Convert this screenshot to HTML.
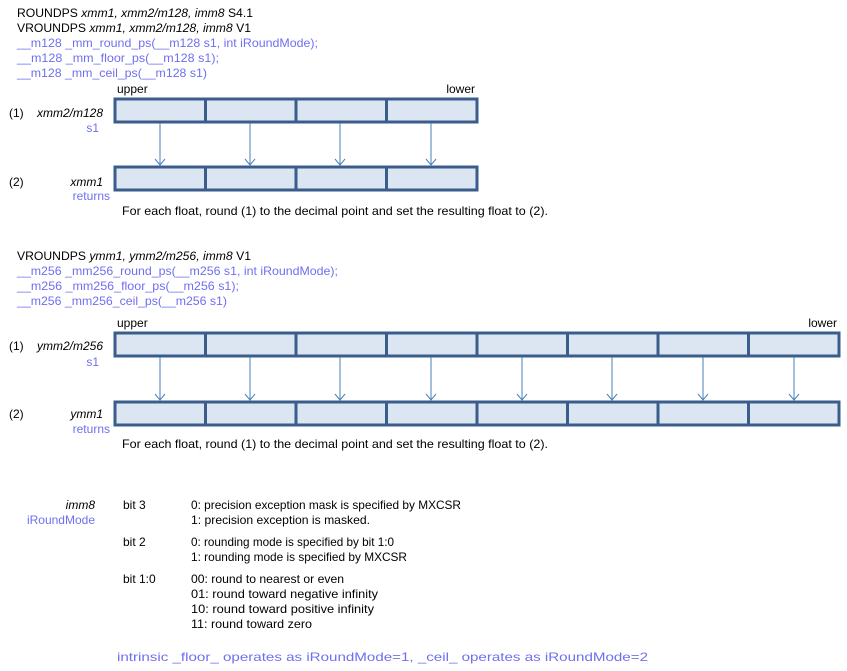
<!DOCTYPE html>
<html><head><meta charset="utf-8"><style>
html,body{margin:0;padding:0;background:#fff;}
svg{display:block;font-family:"Liberation Sans",sans-serif;font-size:12px;white-space:pre;}
.b{fill:#6f6ff0;}
.k{fill:#000;}
.c{fill:#dce6f2;stroke:#3a5d8c;stroke-width:3;}
.d{stroke:#3a5d8c;stroke-width:3;}
.a{stroke:#4a7ebb;stroke-width:1;fill:none;}
</style></head><body>
<svg width="847" height="671" viewBox="0 0 847 671" xmlns="http://www.w3.org/2000/svg" xml:space="preserve">
<text x="17" y="17" class="k" textLength="236" lengthAdjust="spacingAndGlyphs">ROUNDPS <tspan font-style="italic">xmm1, xmm2/m128, imm8</tspan>   S4.1</text>
<text x="17" y="32" class="k" textLength="234" lengthAdjust="spacingAndGlyphs">VROUNDPS <tspan font-style="italic">xmm1, xmm2/m128, imm8</tspan>   V1</text>
<text x="17" y="47" class="b" textLength="301" lengthAdjust="spacingAndGlyphs">__m128  _mm_round_ps(__m128  s1, int iRoundMode);</text>
<text x="17" y="62" class="b" textLength="202" lengthAdjust="spacingAndGlyphs">__m128  _mm_floor_ps(__m128  s1);</text>
<text x="17" y="77" class="b" textLength="190" lengthAdjust="spacingAndGlyphs">__m128  _mm_ceil_ps(__m128  s1)</text>

<text x="117" y="93" class="k">upper</text>
<text x="475" y="93" class="k" text-anchor="end">lower</text>
<text x="9" y="117" class="k">(1)</text>
<text x="103" y="117" class="k" text-anchor="end" font-style="italic">xmm2/m128</text>
<text x="99" y="132" class="b" text-anchor="end">s1</text>
<text x="9" y="186" class="k">(2)</text>
<text x="103" y="186" class="k" text-anchor="end" font-style="italic">xmm1</text>
<text x="110" y="200" class="b" text-anchor="end">returns</text>

<rect x="115" y="99" width="362" height="23" class="c"/>
<line x1="205.5" y1="99" x2="205.5" y2="122" class="d"/>
<line x1="296" y1="99" x2="296" y2="122" class="d"/>
<line x1="386.5" y1="99" x2="386.5" y2="122" class="d"/>
<rect x="115" y="167" width="362" height="23" class="c"/>
<line x1="205.5" y1="167" x2="205.5" y2="190" class="d"/>
<line x1="296" y1="167" x2="296" y2="190" class="d"/>
<line x1="386.5" y1="167" x2="386.5" y2="190" class="d"/>
<g class="a">
<path d="M160 123V165M155 159L160 165L165 159"/>
<path d="M250 123V165M245 159L250 165L255 159"/>
<path d="M340 123V165M335 159L340 165L345 159"/>
<path d="M431 123V165M426 159L431 165L436 159"/>
</g>
<text x="122" y="215" class="k" textLength="426" lengthAdjust="spacingAndGlyphs">For each float,  round (1) to the decimal point and set the resulting float to (2).</text>

<text x="17" y="260" class="k" textLength="234" lengthAdjust="spacingAndGlyphs">VROUNDPS <tspan font-style="italic">ymm1, ymm2/m256, imm8</tspan>   V1</text>
<text x="17" y="275" class="b" textLength="321" lengthAdjust="spacingAndGlyphs">__m256  _mm256_round_ps(__m256  s1, int iRoundMode);</text>
<text x="17" y="290" class="b" textLength="222" lengthAdjust="spacingAndGlyphs">__m256  _mm256_floor_ps(__m256  s1);</text>
<text x="17" y="305" class="b" textLength="210" lengthAdjust="spacingAndGlyphs">__m256  _mm256_ceil_ps(__m256 s1)</text>

<text x="117" y="327" class="k">upper</text>
<text x="837" y="327" class="k" text-anchor="end">lower</text>
<text x="9" y="350" class="k">(1)</text>
<text x="103" y="350" class="k" text-anchor="end" font-style="italic">ymm2/m256</text>
<text x="99" y="366" class="b" text-anchor="end">s1</text>
<text x="9" y="418" class="k">(2)</text>
<text x="103" y="418" class="k" text-anchor="end" font-style="italic">ymm1</text>
<text x="110" y="433" class="b" text-anchor="end">returns</text>

<rect x="115" y="333" width="724" height="23" class="c"/>
<rect x="115" y="402" width="724" height="23" class="c"/>
<g class="d">
<path d="M205.5 333V356M296 333V356M386.5 333V356M477 333V356M567.5 333V356M658 333V356M748.5 333V356"/>
<path d="M205.5 402V425M296 402V425M386.5 402V425M477 402V425M567.5 402V425M658 402V425M748.5 402V425"/>
</g>
<g class="a">
<path d="M160 357V400M155 394L160 400L165 394"/>
<path d="M250 357V400M245 394L250 400L255 394"/>
<path d="M340 357V400M335 394L340 400L345 394"/>
<path d="M431 357V400M426 394L431 400L436 394"/>
<path d="M522 357V400M517 394L522 400L527 394"/>
<path d="M612 357V400M607 394L612 400L617 394"/>
<path d="M703 357V400M698 394L703 400L708 394"/>
<path d="M794 357V400M789 394L794 400L799 394"/>
</g>
<text x="122" y="448" class="k" textLength="426" lengthAdjust="spacingAndGlyphs">For each float,  round (1) to the decimal point and set the resulting float to (2).</text>

<text x="95" y="509" class="k" text-anchor="end" font-style="italic">imm8</text>
<text x="95" y="524" class="b" text-anchor="end">iRoundMode</text>
<text x="123" y="509" class="k">bit 3</text>
<text x="191" y="509" class="k" textLength="270" lengthAdjust="spacingAndGlyphs">0: precision exception mask is specified by MXCSR</text>
<text x="191" y="524" class="k" textLength="179" lengthAdjust="spacingAndGlyphs">1: precision exception is masked.</text>
<text x="123" y="546" class="k">bit 2</text>
<text x="191" y="546" class="k" textLength="203" lengthAdjust="spacingAndGlyphs">0: rounding mode  is specified by bit 1:0</text>
<text x="191" y="561" class="k" textLength="216" lengthAdjust="spacingAndGlyphs">1: rounding mode  is specified by MXCSR</text>
<text x="123" y="583" class="k">bit 1:0</text>
<text x="191" y="583" class="k" textLength="153" lengthAdjust="spacingAndGlyphs">00: round to nearest or even</text>
<text x="191" y="598" class="k" textLength="187" lengthAdjust="spacingAndGlyphs">01: round toward negative infinity</text>
<text x="191" y="613" class="k" textLength="183" lengthAdjust="spacingAndGlyphs">10: round toward positive infinity</text>
<text x="191" y="628" class="k" textLength="121" lengthAdjust="spacingAndGlyphs">11: round toward zero</text>
<text x="117" y="661" class="b" textLength="531" lengthAdjust="spacingAndGlyphs">intrinsic _floor_ operates as iRoundMode=1, _ceil_ operates as iRoundMode=2</text>
</svg>
</body></html>
